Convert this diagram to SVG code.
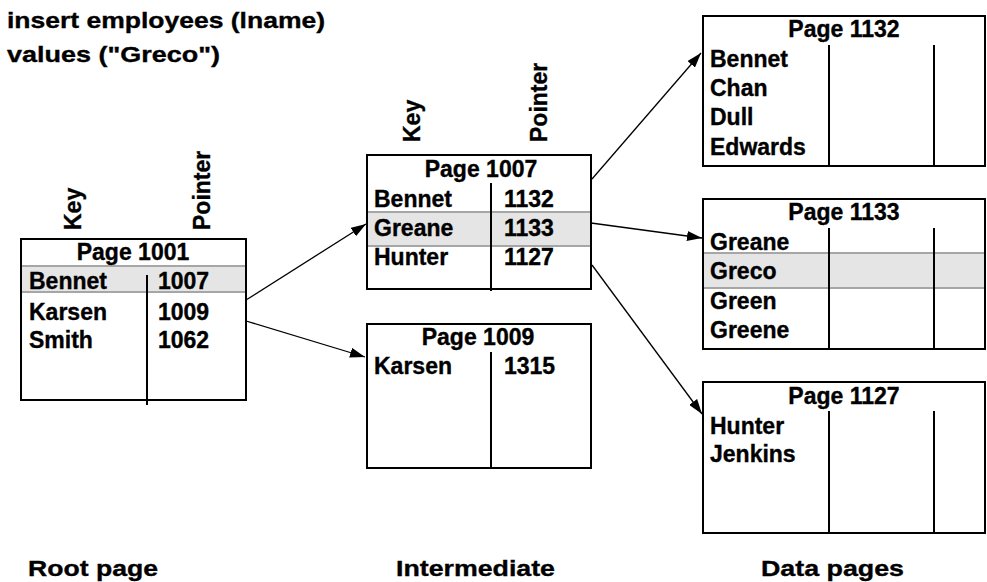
<svg xmlns="http://www.w3.org/2000/svg" width="987" height="582" viewBox="0 0 987 582">
  <defs>
    <marker id="arrow" markerUnits="userSpaceOnUse" markerWidth="15" markerHeight="10" refX="15" refY="5" orient="auto">
      <path d="M0,0 L15,5 L0,10 z" fill="#000"/>
    </marker>
    <style>
      text { font-family: "Liberation Sans", Arial, Helvetica, sans-serif; font-weight: bold; fill: #000; stroke: #000; stroke-width: 0.35; }
      .t { font-size: 23px; }
      .big { font-size: 22.5px; }
      .mid { text-anchor: middle; }
      .box { fill: #fff; stroke: #000; stroke-width: 2; }
      .div { stroke: #000; stroke-width: 2; fill: none; }
      .band { fill: #e5e5e5; stroke: none; }
      .bandline { stroke: #a6a6a6; stroke-width: 2; fill: none; }
      .conn { stroke: #000; stroke-width: 1.3; fill: none; marker-end: url(#arrow); }
    </style>
  </defs>

  <rect width="987" height="582" fill="#fff"/>

  <!-- statement -->
  <g id="statement">
    <text class="big" x="7" y="28" textLength="318" lengthAdjust="spacingAndGlyphs">insert employees (lname)</text>
    <text class="big" x="7" y="62" textLength="213" lengthAdjust="spacingAndGlyphs">values ("Greco")</text>
  </g>

  <!-- column headings -->
  <g id="root-headings">
    <text class="t" transform="translate(81,230) rotate(-90)">Key</text>
    <text class="t" transform="translate(210,230) rotate(-90)">Pointer</text>
  </g>
  <g id="mid-headings">
    <text class="t" transform="translate(420,142) rotate(-90)">Key</text>
    <text class="t" transform="translate(547,142) rotate(-90)">Pointer</text>
  </g>

  <!-- root page -->
  <g id="page-1001">
    <rect class="box" x="21" y="239" width="225" height="161"/>
    <rect class="band" x="22" y="266" width="223" height="26"/>
    <line class="bandline" x1="22" y1="266" x2="245" y2="266"/>
    <line class="bandline" x1="22" y1="292" x2="245" y2="292"/>
    <line class="div" x1="147" y1="275" x2="147" y2="405"/>
    <text class="t mid" x="133" y="260">Page 1001</text>
    <text class="t" x="29" y="289">Bennet</text>
    <text class="t" x="158" y="289">1007</text>
    <text class="t" x="29" y="320">Karsen</text>
    <text class="t" x="158" y="320">1009</text>
    <text class="t" x="29" y="348">Smith</text>
    <text class="t" x="158" y="348">1062</text>
  </g>

  <!-- intermediate pages -->
  <g id="page-1007">
    <rect class="box" x="367" y="155" width="224" height="134"/>
    <rect class="band" x="368" y="212" width="222" height="34"/>
    <line class="bandline" x1="368" y1="212" x2="590" y2="212"/>
    <line class="bandline" x1="368" y1="246" x2="590" y2="246"/>
    <line class="div" x1="491" y1="183" x2="491" y2="291"/>
    <text class="t mid" x="481" y="177">Page 1007</text>
    <text class="t" x="374" y="207">Bennet</text>
    <text class="t" x="504" y="207">1132</text>
    <text class="t" x="374" y="236">Greane</text>
    <text class="t" x="504" y="236">1133</text>
    <text class="t" x="374" y="265">Hunter</text>
    <text class="t" x="504" y="265">1127</text>
  </g>

  <g id="page-1009">
    <rect class="box" x="367" y="324" width="224" height="144"/>
    <line class="div" x1="491" y1="352" x2="491" y2="468"/>
    <text class="t mid" x="478" y="345">Page 1009</text>
    <text class="t" x="374" y="374">Karsen</text>
    <text class="t" x="504" y="374">1315</text>
  </g>

  <!-- data pages -->
  <g id="page-1132">
    <rect class="box" x="703" y="16" width="282" height="150"/>
    <line class="div" x1="829" y1="45" x2="829" y2="166"/>
    <line class="div" x1="934" y1="45" x2="934" y2="166"/>
    <text class="t mid" x="844" y="37">Page 1132</text>
    <text class="t" x="710" y="67">Bennet</text>
    <text class="t" x="710" y="96">Chan</text>
    <text class="t" x="710" y="125">Dull</text>
    <text class="t" x="710" y="155">Edwards</text>
  </g>

  <g id="page-1133">
    <rect class="box" x="703" y="199" width="282" height="150"/>
    <rect class="band" x="704" y="253" width="280" height="35"/>
    <line class="bandline" x1="704" y1="253" x2="984" y2="253"/>
    <line class="bandline" x1="704" y1="288" x2="984" y2="288"/>
    <line class="div" x1="829" y1="228" x2="829" y2="349"/>
    <line class="div" x1="934" y1="228" x2="934" y2="349"/>
    <text class="t mid" x="844" y="220">Page 1133</text>
    <text class="t" x="710" y="250">Greane</text>
    <text class="t" x="710" y="279">Greco</text>
    <text class="t" x="710" y="309">Green</text>
    <text class="t" x="710" y="338">Greene</text>
  </g>

  <g id="page-1127">
    <rect class="box" x="703" y="382" width="282" height="151"/>
    <line class="div" x1="829" y1="411" x2="829" y2="533"/>
    <line class="div" x1="934" y1="411" x2="934" y2="533"/>
    <text class="t mid" x="844" y="404">Page 1127</text>
    <text class="t" x="710" y="434">Hunter</text>
    <text class="t" x="710" y="462">Jenkins</text>
  </g>

  <!-- pointers between pages -->
  <g id="connectors">
    <line class="conn" x1="246" y1="300" x2="366" y2="224"/>
    <line class="conn" x1="246" y1="321" x2="365" y2="357"/>
    <line class="conn" x1="592" y1="179" x2="701" y2="53"/>
    <line class="conn" x1="591" y1="223" x2="702" y2="238"/>
    <line class="conn" x1="592" y1="265" x2="702" y2="414"/>
  </g>

  <!-- level captions -->
  <g id="captions">
    <text class="big" x="28" y="576" textLength="130" lengthAdjust="spacingAndGlyphs">Root page</text>
    <text class="big" x="396" y="576" textLength="159" lengthAdjust="spacingAndGlyphs">Intermediate</text>
    <text class="big" x="761" y="576" textLength="143" lengthAdjust="spacingAndGlyphs">Data pages</text>
  </g>
</svg>
